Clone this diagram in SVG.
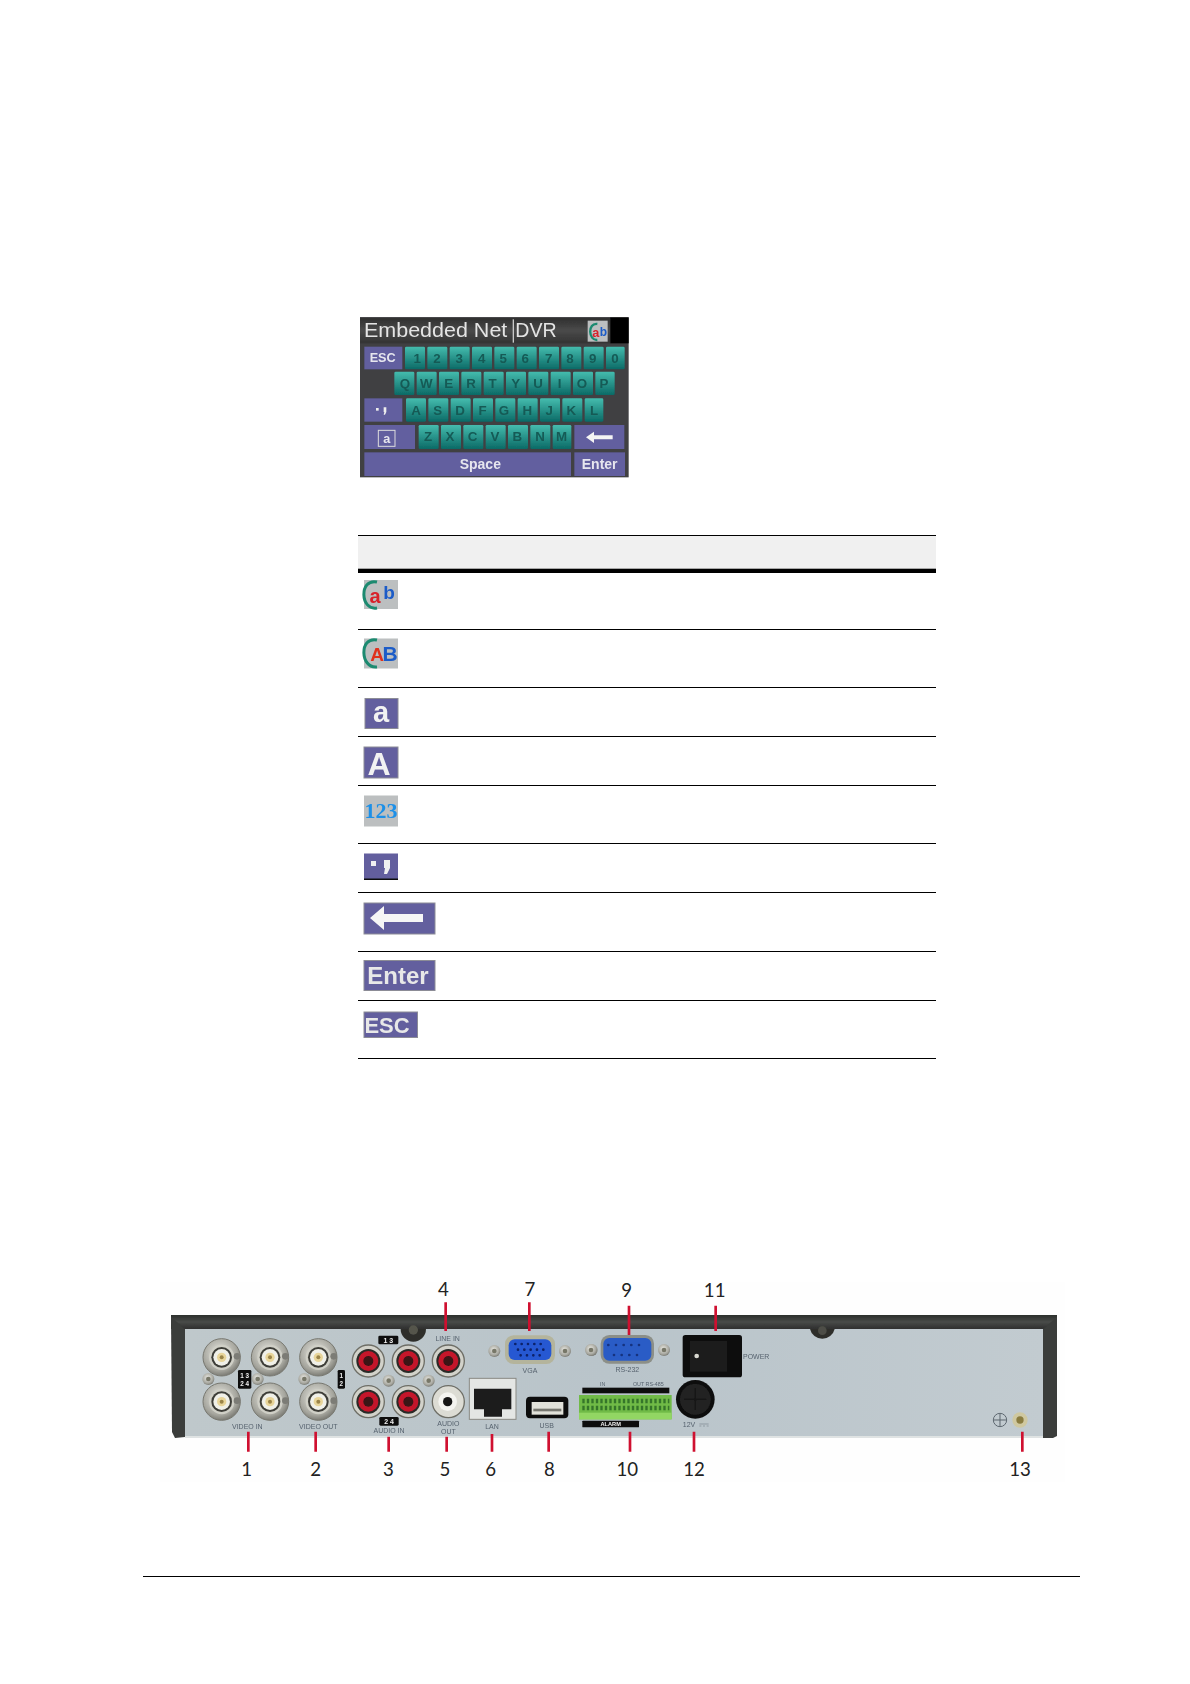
<svg xmlns="http://www.w3.org/2000/svg" xmlns:xlink="http://www.w3.org/1999/xlink" width="1190" height="1684" viewBox="0 0 1190 1684">
<style>
text{font-family:"Liberation Sans",Arial,sans-serif}
.rule{stroke:#000;stroke-width:1;fill:none}
.key{fill:url(#teal)}
.kt{font-size:40px;fill:#145a55;text-anchor:middle;font-weight:bold}
.pk{fill:#625f9f}
.pt{fill:#e6e6ee;font-weight:bold;text-anchor:middle}
.num{font-size:56px;fill:#222;text-anchor:middle;font-family:Lato,"Liberation Sans",sans-serif}
.lab{font-size:21px;fill:#56626e;text-anchor:middle}
.ic{fill:#635f9e;stroke:#8c8c96;stroke-width:1}
.ig{fill:#bcbfc0}
.red{stroke:#cf1030;stroke-width:8;fill:none}
.bk{fill:#111}
.wt{fill:#eee;text-anchor:middle;font-weight:bold}
</style>
<defs>
<linearGradient id="teal" x1="0" y1="0" x2="0" y2="1"><stop offset="0" stop-color="#45bcae"/><stop offset="1" stop-color="#0b6a66"/></linearGradient>
<linearGradient id="bar" x1="0" y1="0" x2="0" y2="1"><stop offset="0" stop-color="#2e2e2e"/><stop offset=".5" stop-color="#4a4a4a"/><stop offset="1" stop-color="#333"/></linearGradient>
<linearGradient id="plate" x1="0" y1="0" x2="1" y2="0"><stop offset="0" stop-color="#bfc8cb"/><stop offset=".5" stop-color="#b9c4ca"/><stop offset="1" stop-color="#c2cbd0"/></linearGradient>
<linearGradient id="band" x1="0" y1="0" x2="0" y2="1"><stop offset="0" stop-color="#2c2e2c"/><stop offset=".5" stop-color="#484a48"/><stop offset="1" stop-color="#2e302e"/></linearGradient>
<radialGradient id="metal" cx=".45" cy=".4" r=".7"><stop offset="0" stop-color="#ecece6"/><stop offset=".65" stop-color="#a6a69e"/><stop offset="1" stop-color="#5e5e58"/></radialGradient>
<filter id="soft" x="-5%" y="-5%" width="110%" height="110%"><feGaussianBlur stdDeviation="0.6"/></filter>
<g id="bnc"><circle r="56" fill="url(#metal)" stroke="#77776f" stroke-width="3"/><circle r="38" fill="#cfcfc6"/><circle r="31" fill="#3e3e38"/><circle r="25" fill="#f0f0e8"/><circle r="14" fill="#e8d59a"/><circle r="6" fill="#9a8448"/><circle cx="46" cy="-3" r="10" fill="#7c7c76"/></g>
<g id="rca"><circle r="48" fill="#d2d2ca" stroke="#6e6e66" stroke-width="4"/><circle r="36" fill="#2b2b28"/><circle r="30" fill="#c4162c"/><circle r="15" fill="#3a1218"/></g>
<g id="screw"><circle r="18" fill="url(#metal)"/><circle r="7" fill="#777768"/></g>
</defs>
<rect width="1190" height="1684" fill="#fff"/>

<g id="keyboard" filter="url(#soft)"><g transform="translate(340,300) scale(.33333)">
<rect x="60" y="52" width="806" height="480" fill="#3f3f42"/>
<rect x="60" y="52" width="752" height="78" fill="url(#bar)"/>
<rect x="811" y="52" width="55" height="78" fill="#000"/>
<text x="72" y="112" font-size="60" fill="#e4e4e4" textLength="430" lengthAdjust="spacingAndGlyphs">Embedded Net</text>
<rect x="518" y="58" width="4" height="70" fill="#c8c8c8"/>
<text x="526" y="112" font-size="60" fill="#e4e4e4" textLength="124" lengthAdjust="spacingAndGlyphs">DVR</text>
<rect x="743" y="62" width="60" height="63" fill="#bcbfc0"/>
<path d="M772 72 C742 68 745 122 772 120" fill="none" stroke="#1a8a70" stroke-width="7"/>
<text x="767" y="110" font-size="38" fill="#d8202a" text-anchor="middle" font-weight="bold">a</text>
<text x="790" y="108" font-size="36" fill="#1c5cc8" text-anchor="middle" font-weight="bold">b</text>
<rect class="pk" x="73" y="140" width="114" height="68"/><text class="pt" x="128" y="186" font-size="38">ESC</text>
<g>
<rect class="key" x="195" y="140" width="60" height="68" rx="4"/><rect class="key" x="262" y="140" width="60" height="68" rx="4"/><rect class="key" x="329" y="140" width="60" height="68" rx="4"/><rect class="key" x="396" y="140" width="60" height="68" rx="4"/><rect class="key" x="463" y="140" width="60" height="68" rx="4"/><rect class="key" x="530" y="140" width="60" height="68" rx="4"/><rect class="key" x="597" y="140" width="60" height="68" rx="4"/><rect class="key" x="664" y="140" width="60" height="68" rx="4"/><rect class="key" x="731" y="140" width="60" height="68" rx="4"/><rect class="key" x="798" y="140" width="56" height="68" rx="4"/>
<text class="kt" x="232" y="188">1</text><text class="kt" x="291" y="188">2</text><text class="kt" x="358" y="188">3</text><text class="kt" x="425" y="188">4</text><text class="kt" x="490" y="188">5</text><text class="kt" x="556" y="188">6</text><text class="kt" x="626" y="188">7</text><text class="kt" x="690" y="188">8</text><text class="kt" x="758" y="188">9</text><text class="kt" x="825" y="188">0</text>
</g>
<g>
<rect class="key" x="163" y="215" width="60" height="70" rx="4"/><rect class="key" x="230" y="215" width="60" height="70" rx="4"/><rect class="key" x="297" y="215" width="60" height="70" rx="4"/><rect class="key" x="364" y="215" width="60" height="70" rx="4"/><rect class="key" x="431" y="215" width="60" height="70" rx="4"/><rect class="key" x="498" y="215" width="60" height="70" rx="4"/><rect class="key" x="565" y="215" width="60" height="70" rx="4"/><rect class="key" x="632" y="215" width="60" height="70" rx="4"/><rect class="key" x="699" y="215" width="60" height="70" rx="4"/><rect class="key" x="766" y="215" width="58" height="70" rx="4"/>
<text class="kt" x="195" y="264">Q</text><text class="kt" x="259" y="264">W</text><text class="kt" x="326" y="264">E</text><text class="kt" x="393" y="264">R</text><text class="kt" x="458" y="264">T</text><text class="kt" x="527" y="264">Y</text><text class="kt" x="594" y="264">U</text><text class="kt" x="659" y="264">I</text><text class="kt" x="726" y="264">O</text><text class="kt" x="792" y="264">P</text>
</g>
<rect class="pk" x="73" y="295" width="114" height="70"/><rect x="108" y="324" width="8" height="8" fill="#eee"/><path d="M131 322h8v14l-4 8h-4l2-8h-2z" fill="#eee"/>
<g>
<rect class="key" x="198" y="295" width="60" height="70" rx="4"/><rect class="key" x="265" y="295" width="60" height="70" rx="4"/><rect class="key" x="332" y="295" width="60" height="70" rx="4"/><rect class="key" x="399" y="295" width="60" height="70" rx="4"/><rect class="key" x="466" y="295" width="60" height="70" rx="4"/><rect class="key" x="533" y="295" width="60" height="70" rx="4"/><rect class="key" x="600" y="295" width="60" height="70" rx="4"/><rect class="key" x="667" y="295" width="60" height="70" rx="4"/><rect class="key" x="734" y="295" width="56" height="70" rx="4"/>
<text class="kt" x="228" y="344">A</text><text class="kt" x="293" y="344">S</text><text class="kt" x="360" y="344">D</text><text class="kt" x="428" y="344">F</text><text class="kt" x="492" y="344">G</text><text class="kt" x="562" y="344">H</text><text class="kt" x="628" y="344">J</text><text class="kt" x="694" y="344">K</text><text class="kt" x="762" y="344">L</text>
</g>
<rect class="pk" x="73" y="375" width="152" height="72"/><rect x="115" y="391" width="50" height="48" fill="none" stroke="#ddd" stroke-width="3"/><text class="pt" x="140" y="430" font-size="38">a</text>
<g>
<rect class="key" x="236" y="375" width="60" height="72" rx="4"/><rect class="key" x="303" y="375" width="60" height="72" rx="4"/><rect class="key" x="370" y="375" width="60" height="72" rx="4"/><rect class="key" x="437" y="375" width="60" height="72" rx="4"/><rect class="key" x="504" y="375" width="60" height="72" rx="4"/><rect class="key" x="571" y="375" width="60" height="72" rx="4"/><rect class="key" x="638" y="375" width="56" height="72" rx="4"/>
<text class="kt" x="264" y="424">Z</text><text class="kt" x="330" y="424">X</text><text class="kt" x="398" y="424">C</text><text class="kt" x="465" y="424">V</text><text class="kt" x="532" y="424">B</text><text class="kt" x="600" y="424">N</text><text class="kt" x="665" y="424">M</text>
</g>
<rect class="pk" x="703" y="375" width="150" height="72"/><path d="M738 412l24-17v11h56v12h-56v11z" fill="#f4f4f4"/>
<rect class="pk" x="73" y="457" width="620" height="71"/><text class="pt" x="421" y="506" font-size="42">Space</text>
<rect class="pk" x="703" y="457" width="152" height="71"/><text class="pt" x="779" y="506" font-size="42">Enter</text>
</g></g>

<g id="table">
<rect x="358" y="535" width="578" height="34" fill="#f0f0f0"/>
<rect x="358" y="535" width="578" height="1" fill="#000"/>
<rect x="358" y="568.7" width="578" height="4.3" fill="#000"/>
<path class="rule" d="M358 629.5H936M358 687.5H936M358 736.5H936M358 785.5H936M358 843.5H936M358 892.5H936M358 951.5H936M358 1000.5H936M358 1058.5H936"/>
</g>

<g filter="url(#soft)">
<g id="icon-ab"><rect class="ig" x="364" y="580" width="34" height="29"/><path d="M377 582C359 578 360 611 377 608" fill="none" stroke="#1a8a70" stroke-width="3"/><text x="375" y="603" font-size="20" font-weight="bold" fill="#d8202a" text-anchor="middle">a</text><text x="389" y="599" font-size="19" font-weight="bold" fill="#1c5cc8" text-anchor="middle">b</text></g>
<g id="icon-AB"><rect class="ig" x="364" y="638.5" width="34" height="30"/><path d="M377 640C359 636 360 669 377 667" fill="none" stroke="#1a8a70" stroke-width="3"/><text x="390" y="661" font-size="21" font-weight="bold" fill="#1c5cc8" text-anchor="middle">B</text><text x="377" y="661" font-size="19" font-weight="bold" fill="#e0301f" text-anchor="middle">A</text></g>
<g id="icon-a"><rect class="ic" x="365" y="698.5" width="33" height="30"/><text x="381" y="722" font-size="29" font-weight="bold" fill="#f2f2f2" text-anchor="middle">a</text></g>
<g id="icon-A"><rect class="ic" x="364" y="747" width="34" height="31"/><text x="379" y="775" font-size="32" font-weight="bold" fill="#f2f2f2" text-anchor="middle">A</text></g>
<g id="icon-123"><rect class="ig" x="364" y="795.5" width="34" height="31"/><text x="381" y="818" font-size="22" font-weight="bold" fill="#1e90e8" text-anchor="middle" style="font-family:'Liberation Serif',serif">123</text></g>
<g id="icon-punct"><rect class="ic" x="364" y="853.5" width="34" height="26" style="stroke:none"/><rect x="364" y="878.5" width="34" height="1.5" fill="#111"/><rect x="371" y="861" width="5" height="5" fill="#f0f0f0"/><path d="M384 860h6v8l-3 6h-3l1-6h-1z" fill="#f0f0f0"/></g>
<g id="icon-back"><rect class="ic" x="364" y="903" width="71" height="31"/><path d="M370 918l14-12v8h39v8h-39v8z" fill="#f6f6f6"/></g>
<g id="icon-enter"><rect class="ic" x="364" y="960.5" width="71" height="30"/><text x="398" y="984" font-size="24" font-weight="bold" fill="#e8e8e8" text-anchor="middle">Enter</text></g>
<g id="icon-esc"><rect class="ic" x="364" y="1012" width="53.500" height="25.500"/><text x="387" y="1033" font-size="22" font-weight="bold" fill="#e8e8e8" text-anchor="middle">ESC</text></g>
</g>

<g id="recorder" filter="url(#soft)">
<rect x="160" y="1282" width="905" height="200" fill="#fefefe"/>
<rect x="185" y="1329" width="858" height="109" fill="url(#plate)"/>
<rect x="171" y="1315" width="886" height="14" fill="url(#band)"/>
<path d="M171 1317L185 1329V1437L175 1438L172 1432Z" fill="#3a3c3a"/>
<path d="M1057 1317L1043 1329V1438H1053L1057 1436Z" fill="#3a3c3a"/>
<rect x="185" y="1436" width="858" height="2" fill="#dfe3e3"/>
<g transform="translate(150,1260) scale(.33333)">
<path d="M752 207a38 38 0 0 0 76 0z" fill="#2e2e2a"/><circle cx="790" cy="210" r="14" fill="#55554c"/>
<use xlink:href="#bnc" href="#bnc" x="215" y="292"/><use xlink:href="#bnc" href="#bnc" x="360" y="292"/><use xlink:href="#bnc" href="#bnc" x="505" y="292"/><use xlink:href="#bnc" href="#bnc" x="215" y="425"/><use xlink:href="#bnc" href="#bnc" x="360" y="425"/><use xlink:href="#bnc" href="#bnc" x="505" y="425"/>
<use xlink:href="#screw" href="#screw" x="175" y="357"/><use xlink:href="#screw" href="#screw" x="323" y="357"/><use xlink:href="#screw" href="#screw" x="463" y="357"/><use xlink:href="#screw" href="#screw" x="716" y="362"/><use xlink:href="#screw" href="#screw" x="836" y="362"/>
<rect class="bk" x="264" y="330" width="40" height="56" rx="4"/><text class="wt" x="284" y="353" font-size="19">1 3</text><text class="wt" x="284" y="378" font-size="19">2 4</text>
<rect class="bk" x="563" y="330" width="22" height="56" rx="4"/><text class="wt" x="574" y="353" font-size="19">1</text><text class="wt" x="574" y="378" font-size="19">2</text>
<use xlink:href="#rca" href="#rca" x="655" y="303"/><use xlink:href="#rca" href="#rca" x="775" y="303"/><use xlink:href="#rca" href="#rca" x="895" y="303"/><use xlink:href="#rca" href="#rca" x="655" y="425"/><use xlink:href="#rca" href="#rca" x="775" y="425"/>
<circle cx="895" cy="425" r="48" fill="#dcdcd4" stroke="#6e6e66" stroke-width="4"/><circle cx="893" cy="425" r="28" fill="#f4f4f0"/><circle cx="893" cy="425" r="14" fill="#181818"/>
<rect class="bk" x="685" y="227" width="60" height="26" rx="4"/><text class="wt" x="715" y="248" font-size="21">1 3</text>
<rect class="bk" x="688" y="471" width="58" height="26" rx="4"/><text class="wt" x="717" y="492" font-size="21">2 4</text>
<text class="lab" x="292" y="508">VIDEO IN</text><text class="lab" x="505" y="508">VIDEO OUT</text><text class="lab" x="717" y="520">AUDIO IN</text><text class="lab" x="895" y="498">AUDIO</text><text class="lab" x="895" y="521">OUT</text><text class="lab" x="893" y="243">LINE IN</text><text class="lab" x="1026" y="507">LAN</text><text class="lab" x="1190" y="505">USB</text><text class="lab" x="1140" y="339">VGA</text>
<use xlink:href="#screw" href="#screw" x="1033" y="273"/><use xlink:href="#screw" href="#screw" x="1245" y="273"/><use xlink:href="#screw" href="#screw" x="1325" y="270"/>
<rect x="1065" y="226" width="150" height="86" rx="26" fill="#b4b49c"/><rect x="1076" y="238" width="128" height="62" rx="18" fill="#2758d2"/>
<path d="M1096 252H1190M1104 269H1186M1112 286H1176" stroke="#0a2068" stroke-width="8" stroke-linecap="round" stroke-dasharray="0 19" fill="none"/>
<rect x="958" y="355" width="140" height="123" fill="#e4e6e4" stroke="#8a8a84" stroke-width="3"/><path d="M972 386H1084V448H1056V470H1002V448H972Z" fill="#1e1e1e"/>
<rect class="bk" x="1128" y="410" width="127" height="65" rx="12"/><rect x="1145" y="426" width="95" height="38" fill="#e2e2da"/><rect x="1150" y="446" width="84" height="8" fill="#77776f"/>
</g>
<g transform="translate(570,1260) scale(.33333)">
<use xlink:href="#screw" href="#screw" x="63" y="270"/><use xlink:href="#screw" href="#screw" x="282" y="270"/>
<rect x="92" y="225" width="160" height="86" rx="26" fill="#8c8f88"/><rect x="100" y="234" width="144" height="68" rx="18" fill="#2b5cc6"/>
<path d="M115 255H220M132 285H210" stroke="#12307e" stroke-width="8" stroke-linecap="round" stroke-dasharray="0 23" fill="none"/>
<text class="lab" x="172" y="337">RS-232</text>
<rect x="338" y="225" width="178" height="127" rx="8" fill="#0c0c0c"/><rect x="360" y="243" width="112" height="92" fill="#1c1c1c"/><circle cx="380" cy="288" r="7" fill="#d8d8d0"/>
<text class="lab" x="519" y="296" style="text-anchor:start">POWER</text>
<text class="lab" x="98" y="378" style="font-size:16px">IN</text><text class="lab" x="235" y="378" style="font-size:16px">OUT  RS-485</text>
<rect class="bk" x="37" y="383" width="261" height="17"/>
<rect x="27" y="405" width="278" height="73" fill="#6fba46"/><rect x="27" y="458" width="278" height="20" fill="#92d664"/>
<path d="M37 423H298M37 444H298" stroke="#35752a" stroke-width="13" stroke-dasharray="7 6.500" fill="none"/>
<rect class="bk" x="37" y="482" width="170" height="20" rx="2"/><text class="wt" x="122" y="498" font-size="17">ALARM</text>
<circle cx="376" cy="418" r="58" fill="#0e0e0e"/><circle cx="376" cy="418" r="46" fill="#242424"/><path d="M376 385V451M343 418H409" stroke="#141414" stroke-width="5"/>
<text class="lab" x="357" y="502">12V</text><path d="M388 492H416M388 498H394M399 498H405M410 498H416" stroke="#7a858e" stroke-width="2" fill="none"/>
<path d="M720 207a38 38 0 0 0 74 0z" fill="#2e2e2a"/><circle cx="757" cy="212" r="13" fill="#4e4e46"/>
<circle cx="1290" cy="480" r="20" fill="none" stroke="#5c666e" stroke-width="3"/><path d="M1272 480H1308M1290 462V498" stroke="#5c666e" stroke-width="3"/>
<circle cx="1350" cy="480" r="23" fill="#cfc8a0"/><circle cx="1350" cy="480" r="11" fill="#8a7c40"/>
</g>
</g>

<g id="connectors">
<g transform="translate(150,1260) scale(.33333)">
<path class="red" d="M295 515V575M497 515V575M716 530V575M890 530V575M1026 522V575M1196 515V575M887 127V213M1138 127V213"/>
</g>
<g transform="translate(570,1260) scale(.33333)">
<path class="red" d="M177 137V225M437 137V213M180 515V575M372 515V575M1357 515V575"/>
</g>
</g>

<g id="labels">
<g transform="translate(150,1260) scale(.33333)">
<text class="num" x="290" y="648">1</text><text class="num" x="497" y="648">2</text><text class="num" x="715" y="648">3</text><text class="num" x="885" y="648">5</text><text class="num" x="1022" y="648">6</text><text class="num" x="1198" y="648">8</text><text class="num" x="880" y="108">4</text><text class="num" x="1140" y="108">7</text>
</g>
<g transform="translate(570,1260) scale(.33333)">
<text class="num" x="170" y="110">9</text><text class="num" x="434" y="110">11</text><text class="num" x="172" y="648">10</text><text class="num" x="372" y="648">12</text><text class="num" x="1350" y="648">13</text>
</g>
</g>

<rect id="footer-rule" x="143" y="1576" width="937" height="1" fill="#000"/>
</svg>
